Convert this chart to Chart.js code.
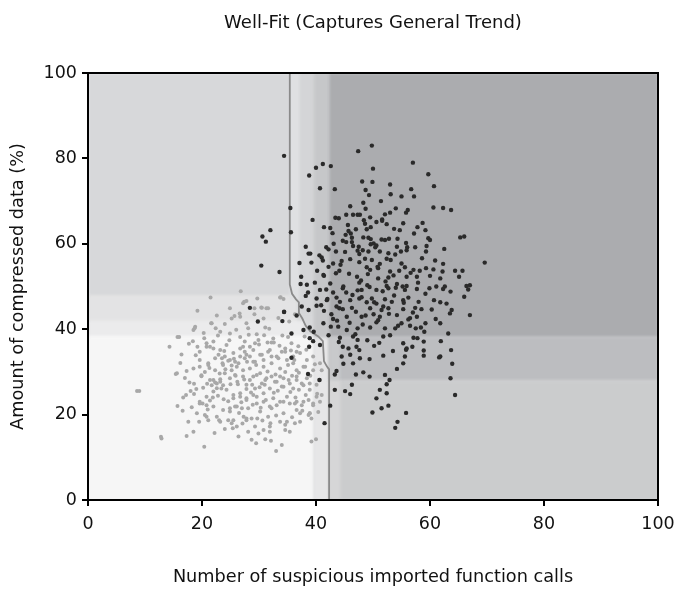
<!DOCTYPE html>
<html>
<head>
<meta charset="utf-8">
<script src="https://cdn.jsdelivr.net/npm/chart.js@4.4.1/dist/chart.umd.min.js"></script>
<style>
  html, body { margin: 0; padding: 0; background: #ffffff; }
</style>
</head>
<body>
<canvas id="chart" width="676" height="589"></canvas>
<script>
// Axis ticks
const xTicks = [0, 20, 40, 60, 80, 100];
const yTicks = [0, 20, 40, 60, 80, 100];

// Benign samples: [suspicious imported calls, compressed data %]
const benignPoints = [
  [26.8,48.9],[21.5,47.4],[27.4,46.4],[27.8,46.6],[29.7,47.2],[33.7,47.4],[34.3,47.1],[19.2,44.3],[24.9,44.9],[30.5,45.0],
  [31.3,44.9],[26.7,42.9],[25.2,42.5],[27.8,41.4],[28.1,40.2],[30.8,42.5],[31.1,40.4],[21.7,41.4],[18.8,40.6],[18.5,39.8],
  [23.2,39.4],[24.9,39.0],[16.0,38.2],[20.4,37.9],[20.8,36.7],[21.4,35.9],[22.0,35.5],[26.7,38.2],[27.5,37.1],[27.2,35.9],
  [28.4,35.9],[29.6,38.8],[29.9,37.5],[29.3,36.7],[31.5,36.9],[32.2,36.9],[32.6,36.9],[34.1,38.5],[35.3,41.8],[36.3,43.5],
  [34.6,35.5],[36.6,34.7],[35.7,36.7],[14.3,35.9],[16.4,34.1],[18.4,37.2],[19.2,35.9],[19.6,34.7],[22.9,34.0],[23.5,33.2],
  [24.0,33.6],[23.6,32.0],[24.6,32.6],[25.2,31.5],[25.8,32.4],[26.7,33.6],[27.5,34.7],[28.4,33.6],[29.0,32.4],[30.2,34.0],
  [30.8,32.8],[31.6,34.7],[32.2,33.6],[33.4,33.2],[34.0,34.7],[34.9,32.8],[36.0,32.0],[37.8,31.2],[19.6,31.2],[21.1,31.6],
  [22.3,30.4],[15.6,29.7],[17.3,30.2],[18.5,30.8],[15.4,29.5],[17.8,27.5],[18.6,27.2],[19.9,29.0],[20.5,30.0],[21.4,28.1],
  [22.3,27.5],[23.2,28.3],[23.7,26.9],[22.6,26.2],[22.0,25.4],[16.7,24.0],[17.2,24.6],[18.6,24.8],[15.7,22.0],[16.6,20.9],
  [19.6,23.0],[20.1,22.6],[20.8,22.2],[21.4,23.3],[17.6,18.3],[19.5,18.3],[20.5,19.9],[21.1,18.7],[18.5,16.0],[17.3,15.0],
  [12.9,14.4],[20.4,12.5],[22.6,19.5],[23.0,18.7],[24.6,18.7],[25.2,18.0],[25.4,16.8],[26.1,17.2],[24.9,21.5],[24.9,20.7],
  [25.8,21.9],[27.0,21.5],[27.3,19.5],[27.8,18.7],[28.7,19.1],[29.7,19.1],[28.1,16.0],[28.7,14.1],[29.5,13.3],[31.1,14.2],
  [30.8,16.4],[31.9,16.0],[33.0,11.5],[34.0,12.9],[31.6,19.5],[32.0,18.0],[33.7,18.3],[34.6,16.4],[34.9,18.3],[36.3,18.0],
  [37.2,20.3],[38.7,19.9],[39.2,19.1],[38.9,20.3],[39.2,13.7],[40.0,14.2],[35.4,16.0],[34.3,23.0],[35.4,22.6],[36.6,23.0],
  [37.5,22.2],[38.7,23.4],[39.5,22.6],[40.7,23.0],[40.1,24.2],[41.0,24.6],[25.5,23.8],[26.7,24.2],[27.8,23.4],[29.0,24.6],
  [29.6,22.6],[30.8,23.0],[31.9,21.9],[33.1,22.2],[24.0,29.7],[24.9,28.5],[25.8,29.3],[26.2,27.7],[27.2,28.9],[27.8,27.0],
  [28.4,28.1],[29.3,26.1],[29.6,29.3],[30.5,27.3],[31.3,28.5],[31.9,26.1],[32.8,27.7],[33.7,28.9],[34.3,26.5],[35.2,28.1],
  [36.0,26.1],[36.6,28.9],[37.5,27.3],[38.4,28.5],[38.9,25.8],[40.1,27.0],[40.7,28.1],[21.6,41.4],[18.7,40.2],[15.7,38.2],
  [25.7,43.1],[26.6,43.7],[27.2,46.1],[29.2,44.9],[30.4,45.1],[31.6,44.9],[33.8,47.5],[22.0,28.1],[22.6,27.3],[21.7,26.9],
  [23.2,27.7],[25.2,30.4],[26.1,31.2],[27.2,30.4],[28.4,30.8],[29.0,28.9],[30.2,29.7],[31.1,28.1],[32.2,28.9],[33.1,27.7],
  [34.3,28.5],[35.4,27.3],[36.6,28.1],[37.8,26.9],[38.9,27.3],[24.3,25.8],[25.5,24.6],[26.7,25.0],[27.8,23.8],[29.6,24.2],
  [30.8,25.0],[32.5,23.8],[33.7,23.0],[34.9,24.2],[36.3,22.6],[37.8,23.0],[39.5,22.2],[20.8,24.2],[19.6,22.6],[22.0,21.9],
  [23.7,21.1],[26.1,21.9],[28.1,21.5],[30.2,20.7],[32.2,21.5],[34.3,20.3],[36.6,21.1],[38.9,20.3],[19.1,20.3],[20.8,19.5],
  [23.2,18.3],[25.5,18.7],[27.8,19.1],[29.3,17.2],[31.9,17.2],[34.6,17.6],[37.2,18.3],[20.8,35.9],[22.0,37.1],[23.2,35.1],
  [24.3,36.3],[25.5,34.4],[26.7,35.5],[27.8,34.0],[29.0,35.1],[30.5,34.0],[31.9,35.1],[33.1,33.6],[34.6,34.7],[36.0,33.6],
  [37.2,34.4],[38.4,32.8],[39.5,33.6],[40.7,32.0],[19.6,32.8],[21.1,32.0],[22.3,33.2],[23.7,31.6],[24.9,32.8],[26.4,32.0],
  [27.5,33.2],[29.3,32.4],[30.8,31.2],[32.2,32.0],[33.7,30.8],[35.1,31.6],[36.6,30.4],[38.1,31.2],[39.5,30.4],[41.0,30.4],
  [8.6,25.5],[9.0,25.5],[12.8,14.8],[24.1,30.6],[25.9,29.1],[27.4,28.2],[28.8,27.0],[30.1,26.4],[31.5,30.1],[32.9,29.4],
  [34.6,30.0],[35.8,29.1],[26.3,27.1],[23.1,29.6],[21.3,30.9],[20.2,26.3],[22.8,24.4],[24.6,23.1],[26.9,22.9],[28.9,22.3],
  [31.2,23.4],[33.3,25.6],[35.5,25.3],[37.0,25.8],[29.5,31.6],[27.9,32.4],[25.6,33.1],[23.9,34.9],[30.0,36.4],[32.5,37.8],
  [28.2,38.7],[26.0,39.9],[24.0,41.2],[22.6,43.2],[31.8,40.1],[33.4,42.6],[29.2,43.5],[35.1,38.2],[36.9,36.0],[38.3,35.2],
  [39.0,29.1],[40.2,24.9],[37.6,20.9],[35.8,19.4],[33.0,19.8],[30.6,18.6],[27.1,17.9],[24.0,16.6],[22.2,15.7],[26.4,14.9],
  [29.9,15.6],[32.1,13.9],[21.0,21.2],[18.0,25.5],[17.0,28.6],[16.2,32.1],[18.9,33.9],[17.7,36.6],[20.3,39.1],[22.4,40.2],
  [19.9,29.2],[23.4,26.1],[27.8,26.0],[31.0,27.0],[34.0,26.6],[36.2,32.8],[38.0,38.3],
  [37.0,29.8],[39.8,31.8],[38.2,24.6],[36.4,24.0],[40.4,20.6],[30.9,38.6],[33.6,36.1],[35.6,35.0],[24.8,37.4],[22.8,38.5],
  [19.0,26.0],[20.9,27.2],[25.0,27.1],[28.6,25.2],[32.6,25.1],[21.9,24.0],[23.8,23.6],[30.3,21.6],[26.5,20.4],[18.2,21.7]
];

// Malicious samples: [suspicious imported calls, compressed data %]
const malwarePoints = [
  [34.4,80.6],[49.8,83.0],[47.4,81.7],[41.2,78.7],[40.0,77.8],[42.6,78.2],[38.8,76.0],[50.0,77.6],[57.0,79.0],[59.7,76.3],
  [48.1,74.6],[49.9,74.5],[53.0,73.9],[40.7,73.0],[43.3,72.8],[60.7,73.5],[56.7,72.8],[48.7,72.6],[53.1,71.6],[49.3,71.4],
  [55.0,71.1],[57.2,71.1],[51.4,70.0],[48.3,69.6],[35.5,68.4],[60.6,68.5],[62.3,68.4],[63.7,67.9],[48.7,68.2],[54.0,68.3],
  [56.1,67.9],[53.0,67.3],[55.8,67.3],[47.3,66.8],[47.7,66.8],[46.5,66.8],[45.3,66.8],[43.4,66.1],[44.0,66.0],[49.5,66.2],
  [39.4,65.6],[51.6,65.7],[51.6,65.4],[50.6,65.1],[48.6,64.7],[45.6,64.4],[52.4,64.6],[58.7,64.9],[57.8,63.9],[41.4,63.9],
  [42.5,63.7],[32.0,63.2],[35.6,62.7],[42.9,62.5],[45.7,63.0],[47.0,63.4],[48.9,63.4],[49.6,63.9],[53.7,63.5],[54.7,63.2],
  [59.2,63.2],[65.3,61.5],[66.0,61.7],[59.7,61.3],[60.0,60.9],[46.1,62.4],[46.3,61.4],[48.3,61.5],[49.2,61.4],[49.6,61.1],
  [44.7,60.7],[45.3,60.4],[46.3,60.4],[52.1,60.9],[52.8,61.2],[54.3,61.2],[50.1,60.1],[50.6,59.6],[50.4,59.2],[38.2,59.3],
  [41.8,59.2],[42.2,58.7],[46.5,59.5],[47.5,59.3],[56.0,59.2],[57.4,59.2],[59.4,59.5],[54.2,59.3],[38.7,57.7],[39.0,57.7],
  [40.6,57.3],[41.0,56.8],[43.5,58.2],[45.1,58.1],[47.3,58.4],[48.2,58.5],[49.2,58.2],[51.2,58.2],[52.7,57.8],[54.9,58.2],
  [55.9,58.5],[59.3,58.2],[62.3,55.3],[37.1,55.5],[39.2,55.6],[43.0,55.4],[44.5,56.0],[46.0,56.4],[47.6,55.7],[48.6,56.5],
  [49.8,56.2],[51.2,55.3],[52.4,56.5],[53.1,56.2],[42.2,54.6],[44.1,53.7],[43.5,53.1],[33.6,53.4],[40.2,53.7],[41.4,52.5],
  [48.9,54.5],[49.5,53.9],[50.9,54.3],[53.0,53.5],[54.6,53.7],[55.6,54.5],[57.1,53.9],[58.2,53.7],[59.3,54.3],[60.6,54.0],
  [62.2,53.5],[64.4,53.7],[65.7,53.7],[37.4,52.3],[41.3,52.7],[47.2,52.3],[50.9,51.9],[52.7,52.1],[55.9,52.3],[57.7,52.3],
  [60.0,52.5],[61.8,51.9],[65.1,52.3],[67.0,50.3],[37.3,50.6],[38.4,50.4],[42.5,50.7],[44.8,50.0],[47.6,50.9],[49.0,50.3],
  [52.4,50.1],[54.2,50.6],[55.9,50.1],[61.1,50.0],[62.6,50.0],[69.6,55.6],[66.4,50.1],
  [40.7,49.2],[41.8,49.3],[43.0,48.6],[44.7,49.6],[45.3,48.6],[47.3,49.1],[48.0,49.2],[49.4,49.9],[50.6,49.2],[51.7,48.9],
  [52.7,49.6],[54.0,49.7],[55.2,50.0],[55.6,49.2],[57.7,49.4],[59.9,49.6],[62.3,49.4],[63.6,48.8],[66.0,47.6],[66.7,49.3],
  [38.2,47.8],[40.1,47.2],[41.9,46.8],[43.6,47.4],[44.2,46.4],[46.0,46.8],[47.6,47.2],[48.9,46.3],[49.8,47.2],[50.6,46.0],
  [52.1,47.0],[53.3,46.4],[55.3,46.8],[56.2,47.4],[58.0,46.4],[60.7,46.8],[62.9,46.0],[63.8,44.5],
  [37.5,45.3],[38.7,44.5],[40.1,45.5],[41.4,44.3],[42.7,43.5],[43.6,45.3],[44.7,44.7],[46.3,45.0],[47.0,44.1],[48.0,42.9],
  [49.5,44.9],[50.1,43.5],[51.5,44.5],[52.7,44.9],[54.2,43.3],[55.3,44.7],[57.4,45.0],[57.7,42.9],[58.5,44.7],[61.0,42.4],
  [63.5,43.7],[67.0,43.3],[34.4,44.1],[36.6,43.2],[43.0,42.4],[45.4,42.9],[51.2,42.9],[56.5,42.6],[59.2,41.4],
  [34.1,41.9],[35.7,39.0],[38.9,40.4],[39.6,39.4],[41.3,41.4],[42.6,40.6],[43.9,40.6],[45.4,39.8],[47.3,40.2],[48.2,41.1],
  [49.5,40.4],[50.6,41.6],[52.1,40.2],[53.0,38.6],[53.9,40.2],[55.0,41.4],[56.5,40.8],[57.5,40.2],[59.0,39.4],[61.8,41.4],
  [63.2,39.0],[37.8,39.8],[38.9,37.9],[39.5,37.2],[44.2,38.0],[46.5,38.3],[47.3,37.5],[50.2,36.1],[51.8,38.3],[55.3,36.7],
  [55.9,35.5],[57.1,38.0],[57.8,37.9],[58.9,37.1],[61.9,37.2],[44.7,35.9],[45.7,35.5],[47.1,35.9],[47.6,35.1],[40.7,36.3],
  [58.9,33.8],[58.9,35.0],[61.8,33.6],[61.6,33.4],[63.7,35.1],[63.9,31.9],[55.6,33.6],[55.3,32.0],[55.8,35.2],[54.2,30.7],
  [51.8,33.8],[49.4,33.0],[46.0,34.0],[44.5,33.6],[44.8,31.9],[46.5,32.0],[47.7,33.2],[43.6,30.2],[43.3,29.4],
  [47.0,29.4],[48.3,29.9],[49.4,28.9],[52.4,27.1],[52.9,28.1],[52.1,29.3],[46.3,27.0],[63.6,28.5],[40.6,28.1],
  [43.3,25.8],[45.1,25.5],[46.0,24.8],[51.2,25.8],[52.4,25.0],[50.6,23.8],[64.4,24.6],[42.5,22.1],[52.7,22.1],[51.5,21.5],
  [49.9,20.5],[55.8,20.4],[54.3,18.3],[53.9,16.9],[41.5,18.0],
  [30.6,61.7],[31.2,60.5],[30.4,54.9],[28.4,45.0],[29.8,41.8],[34.4,44.0],[35.7,33.3],[38.6,29.5],[38.8,35.9],
  [44.3,55.1],[45.8,53.0],[47.9,51.4],[49.1,52.9],[50.8,54.6],[52.2,51.2],[53.6,52.6],[55.0,55.4],[56.6,53.2],[57.9,50.9],
  [59.2,48.3],[46.4,48.0],[48.0,47.5],[50.2,46.3],[51.8,45.3],[53.7,47.9],[55.4,46.2],[57.0,43.9],[44.1,44.9],[42.0,47.1],
  [40.9,45.6],[43.7,42.0],[45.9,41.5],[48.7,43.2],[50.9,42.1],[52.8,43.6],[54.4,40.8],[56.2,42.3],[58.4,40.4],[60.3,44.6],
  [61.8,46.3],[46.9,38.8],[49.0,37.4],[51.1,36.8],[53.5,34.9],[56.9,35.9],[42.2,38.6],[44.0,37.0],[47.6,57.6],[49.6,59.9],
  [51.5,61.0],[53.9,57.5],[55.8,60.2],[57.2,62.4],[45.2,62.1],[43.1,60.0],[41.2,56.1],[39.8,50.9],[38.6,48.6],[60.9,56.1],
  [62.5,58.8],[58.6,56.6],[48.4,65.5],[52.1,66.9],[46.0,68.8],[55.3,64.8]
];

// Classifier decision boundary
const boundaryX = [35.4, 35.4, 35.8, 36.5, 37.0, 37.0, 37.6, 38.2, 39.0, 40.4, 41.2, 41.4, 41.9, 42.3, 42.3];
const boundaryY = [100, 50.5, 48.3, 47.0, 46.3, 43.8, 42.5, 40.8, 39.5, 38.3, 37.2, 32.5, 31.3, 30.6, 0];

// Decision regions as [xFrom, xTo, yFrom, yTo], painted in order
const regionBounds = [
  [0, 100, 0, 100],
  [0, 36.6, 0, 48],
  [0, 37.8, 0, 42],
  [0, 39.6, 0, 38.5],
  [39.6, 42.3, 0, 38.2],
  [35.4, 37.2, 47, 100],
  [37.2, 39.6, 44, 100],
  [39.6, 42.3, 38.2, 100],
  [42.3, 100, 38.2, 100],
  [42.3, 100, 28, 38.2],
  [42.3, 100, 0, 28],
  [42.3, 44.2, 28, 38.2],
  [42.3, 44.2, 0, 28]
];

const regionPlugin = {
  id: 'decisionRegions',
  beforeDatasetsDraw(chart, args, opts) {
    const { ctx, chartArea, scales: { x, y } } = chart;
    ctx.save();
    ctx.beginPath();
    ctx.rect(chartArea.left, chartArea.top, chartArea.width, chartArea.height);
    ctx.clip();
    ctx.filter = 'blur(1.5px)';
    regionBounds.forEach((r, i) => {
      const x0 = x.getPixelForValue(r[0]);
      const x1 = x.getPixelForValue(r[1]);
      const y0 = y.getPixelForValue(r[2]);
      const y1 = y.getPixelForValue(r[3]);
      ctx.fillStyle = opts.fills[i];
      ctx.fillRect(Math.min(x0, x1), Math.min(y0, y1), Math.abs(x1 - x0) + 0.5, Math.abs(y1 - y0) + 0.5);
    });
    ctx.restore();
  }
};

const framePlugin = {
  id: 'plotFrame',
  afterDatasetsDraw(chart) {
    const { ctx, chartArea } = chart;
    ctx.save();
    ctx.strokeStyle = '#000000';
    ctx.lineWidth = 2;
    ctx.strokeRect(chartArea.left, chartArea.top, chartArea.width, chartArea.height);
    ctx.restore();
  }
};

const fontFamily = '"DejaVu Sans", Lato, sans-serif';

new Chart(document.getElementById('chart'), {
  type: 'scatter',
  data: {
    datasets: [
      {
        label: 'Malware',
        data: malwarePoints.map(p => ({ x: p[0], y: p[1] })),
        backgroundColor: '#2a2a2a',
        borderColor: '#2a2a2a',
        borderWidth: 0,
        pointRadius: 2.2,
        order: 1
      },
      {
        label: 'Benign',
        data: benignPoints.map(p => ({ x: p[0], y: p[1] })),
        backgroundColor: '#a8a8a8',
        borderColor: '#a8a8a8',
        borderWidth: 0,
        pointRadius: 2.0,
        order: 2
      },
      {
        label: 'Boundary',
        type: 'line',
        data: boundaryX.map((v, i) => ({ x: v, y: boundaryY[i] })),
        borderColor: '#8a8a8a',
        borderWidth: 1.8,
        pointRadius: 0,
        tension: 0,
        fill: false,
        order: 3
      }
    ]
  },
  options: {
    responsive: false,
    devicePixelRatio: 1,
    animation: false,
    layout: { padding: { left: 0, right: 18, top: 0, bottom: 0 } },
    plugins: {
      legend: { display: false },
      tooltip: { enabled: false },
      title: {
        display: true,
        fullSize: false,
        text: 'Well-Fit (Captures General Trend)',
        color: '#111111',
        font: { family: fontFamily, size: 18, weight: 'normal' },
        padding: { top: 13, bottom: 38.4 }
      },
      decisionRegions: {
        fills: [
          '#d7d8da', '#e3e3e4', '#ebebec', '#f6f6f6', '#e6e6e7',
          '#dfe0e2', '#d4d5d7', '#c6c7c9',
          '#abacaf', '#bcbdc0', '#cbcccd', '#c8c9cb', '#d6d6d7'
        ]
      }
    },
    scales: {
      x: {
        type: 'linear',
        min: 0,
        max: 100,
        afterBuildTicks(scale) { scale.ticks = xTicks.map(v => ({ value: v })); },
        afterFit(scale) { scale.height = 89; scale.paddingLeft = 0; scale.paddingRight = 0; },
        ticks: { color: '#111111', font: { family: fontFamily, size: 17.5 }, padding: 8 },
        grid: { drawOnChartArea: false, drawTicks: true, tickLength: 6, color: '#000000', lineWidth: 2 },
        border: { display: true, color: '#000000', width: 2 },
        title: {
          display: true,
          text: 'Number of suspicious imported function calls',
          color: '#111111',
          font: { family: fontFamily, size: 17.7 },
          padding: { top: 0, bottom: 1 }
        }
      },
      y: {
        type: 'linear',
        min: 0,
        max: 100,
        afterBuildTicks(scale) { scale.ticks = yTicks.map(v => ({ value: v })); },
        afterFit(scale) { scale.width = 88; scale.paddingTop = 0; scale.paddingBottom = 0; },
        ticks: { color: '#111111', font: { family: fontFamily, size: 17.5 }, padding: 5 },
        grid: { drawOnChartArea: false, drawTicks: true, tickLength: 6, color: '#000000', lineWidth: 2 },
        border: { display: true, color: '#000000', width: 2 },
        title: {
          display: true,
          text: 'Amount of compressed data (%)',
          color: '#111111',
          font: { family: fontFamily, size: 17.7 },
          padding: { top: 8, bottom: 0 }
        }
      }
    }
  },
  plugins: [regionPlugin, framePlugin]
});
</script>
</body>
</html>
